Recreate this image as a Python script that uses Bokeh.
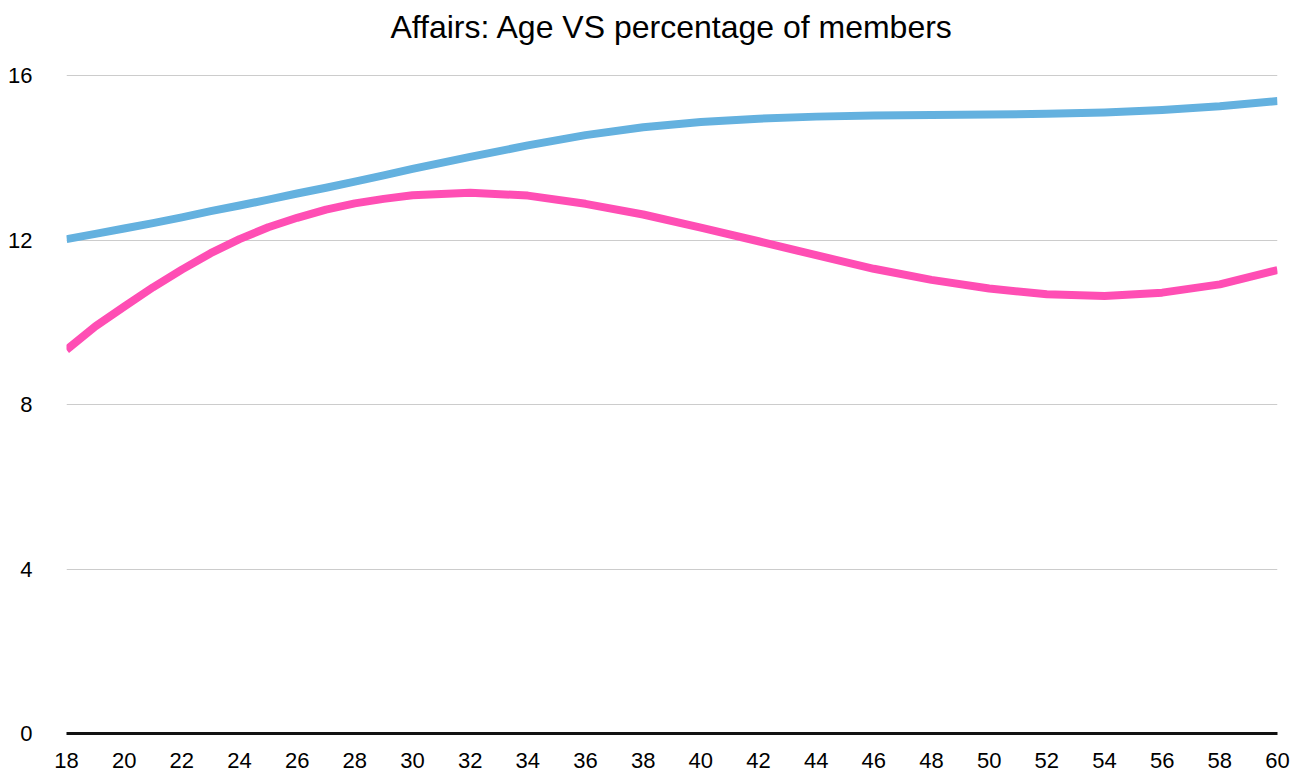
from bokeh.plotting import figure
from bokeh.models import FixedTicker, Range1d, Label
from bokeh.embed import file_html
from bokeh.resources import INLINE

ages = [18, 19, 20, 21, 22, 23, 24, 25, 26, 27, 28, 29, 30, 32, 34, 36, 38, 40,
        42, 44, 46, 48, 50, 52, 54, 56, 58, 60]
blue_vals = [12.02, 12.15, 12.28, 12.41, 12.55, 12.70, 12.84, 12.98, 13.13, 13.27, 13.42, 13.57,
             13.73, 14.02, 14.30, 14.55, 14.74, 14.87, 14.95, 15.00, 15.03, 15.04, 15.05,
             15.07, 15.10, 15.16, 15.25, 15.38]
pink_vals = [9.33, 9.90, 10.38, 10.85, 11.28, 11.68, 12.02, 12.31, 12.54, 12.74, 12.89, 13.00,
             13.09, 13.15, 13.08, 12.88, 12.62, 12.30, 11.97, 11.63, 11.30, 11.03, 10.82,
             10.68, 10.64, 10.72, 10.92, 11.27]
x_ticks = list(range(18, 61, 2))
y_ticks = [0, 4, 8, 12, 16]
title_text = "Affairs: Age VS percentage of members"

FONT = "Liberation Sans"

# the plot area is extended upward (no visible y axis line) so the title fits inside it
Y_TOP = 16 + 75 / 41.125

p = figure(width=1306, height=776, output_backend="svg", toolbar_location=None,
           x_range=Range1d(18, 60), y_range=Range1d(0, Y_TOP),
           min_border_left=66, min_border_right=29, min_border_top=0, min_border_bottom=43)

title = Label(x=(18 + 60) / 2, y=16, x_units="data", y_units="data",
              y_offset=49, text=title_text, text_align="center",
              text_baseline="alphabetic", text_font=FONT, text_font_size="32px",
              text_color="#000000")
p.add_layout(title)

p.outline_line_color = None
p.background_fill_color = "white"
p.border_fill_color = "white"

p.xgrid.grid_line_color = None
p.ygrid.grid_line_color = "#cccccc"
p.ygrid.grid_line_width = 1

p.xaxis.ticker = FixedTicker(ticks=x_ticks)
p.yaxis.ticker = FixedTicker(ticks=y_ticks)

for ax in (p.xaxis, p.yaxis):
    ax.major_tick_line_color = None
    ax.minor_tick_line_color = None
    ax.major_label_text_font = FONT
    ax.major_label_text_font_size = "22px"
    ax.major_label_text_color = "#000000"

p.xaxis.axis_line_color = "#111111"
p.xaxis.axis_line_width = 3
p.xaxis.major_label_standoff = 13
p.yaxis.axis_line_color = None
p.yaxis.major_label_standoff = 28

p.line(ages, pink_vals, line_color="#FF4EB4", line_width=8, line_join="round")
p.line(ages, blue_vals, line_color="#64B1DF", line_width=8, line_join="round")

open("out.html", "w").write(file_html(p, INLINE))
